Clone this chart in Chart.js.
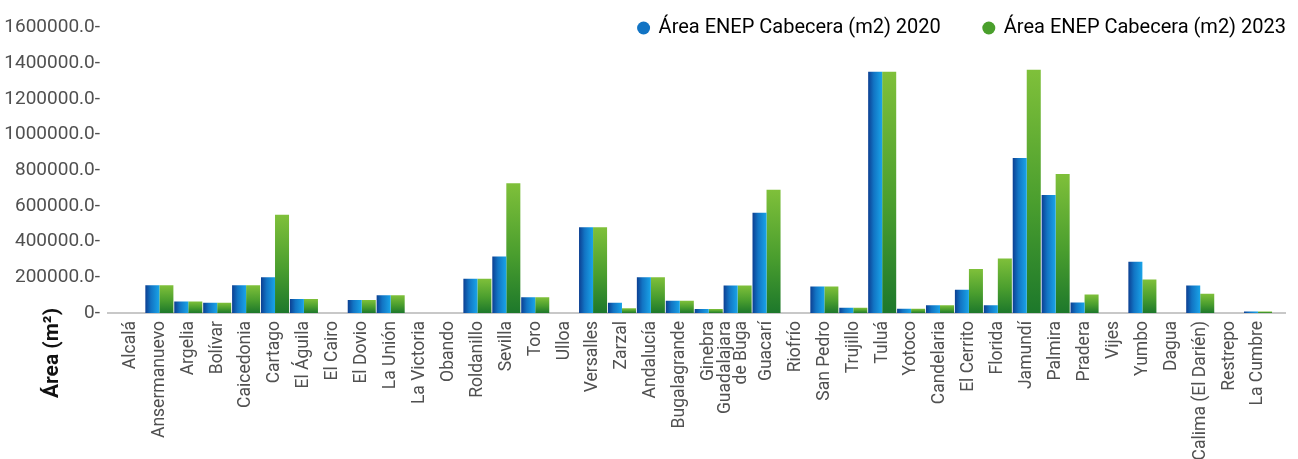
<!DOCTYPE html>
<html>
<head>
<meta charset="utf-8">
<script src="https://cdn.jsdelivr.net/npm/chart.js@4.4.1/dist/chart.umd.min.js"></script>
<style>
  html, body { margin: 0; padding: 0; background: #ffffff; }
  #wrap { width: 1298px; height: 459px; position: relative; }
</style>
</head>
<body>
<div id="wrap"><canvas id="c" width="1298" height="459"></canvas></div>
<script>
const categories = ['Alcalá','Ansermanuevo','Argelia','Bolívar','Caicedonia','Cartago','El Águila','El Cairo','El Dovio','La Unión','La Victoria','Obando','Roldanillo','Sevilla','Toro','Ulloa','Versalles','Zarzal','Andalucía','Bugalagrande','Ginebra',['Guadalajara','de Buga'],'Guacarí','Riofrío','San Pedro','Trujillo','Tuluá','Yotoco','Candelaria','El Cerrito','Florida','Jamundí','Palmira','Pradera','Vijes','Yumbo','Dagua','Calima (El Darién)','Restrepo','La Cumbre'];

const area2020 = [0,155000,65000,57000,155000,200000,79000,0,73000,100000,0,0,192000,317000,88000,0,480000,57000,200000,68000,22000,154000,562000,0,148000,29000,1352000,24000,44000,130000,44000,868000,661000,59000,0,287000,0,154000,0,8000];
const area2023 = [0,155000,65000,57000,155000,551000,79000,0,73000,100000,0,0,192000,727000,88000,0,480000,26000,200000,68000,22000,154000,691000,0,148000,29000,1352000,24000,44000,246000,306000,1363000,779000,103000,0,188000,0,108000,0,8000];

const seriesNames = ['Área ENEP Cabecera (m2) 2020', 'Área ENEP Cabecera (m2) 2023'];
const yTicks = [0,200000,400000,600000,800000,1000000,1200000,1400000,1600000];
const yTitle = 'Área (m²)';

const CAT_PCT = 0.97;

function barFill(ctx, which) {
  const chart = ctx.chart;
  const xs = chart.scales && chart.scales.x, ys = chart.scales && chart.scales.y;
  const fallback = which === 0 ? '#1377c6' : '#4ea52c';
  if (!xs || !ys || ctx.type !== 'data' || !chart.chartArea) return fallback;
  const i = ctx.dataIndex;
  const v = ctx.raw || 0;
  const c = xs.getPixelForValue(i);
  const half = (xs.right - xs.left) / categories.length * CAT_PCT / 2;
  const left = which === 0 ? c - half : c;
  const right = left + half;
  const top = ys.getPixelForValue(v);
  const base = ys.getPixelForValue(0);
  const g = chart.ctx;
  if (!isFinite(left) || !isFinite(top)) return fallback;
  if (which === 0) {
    const gr = g.createLinearGradient(left, 0, right, 0);
    gr.addColorStop(0, '#0c3f92');
    gr.addColorStop(0.4, '#1274c4');
    gr.addColorStop(1, '#19a4e8');
    return gr;
  } else {
    const gr = g.createLinearGradient(0, top, 0, Math.max(base, top + 1));
    gr.addColorStop(0, '#7fc03a');
    gr.addColorStop(0.55, '#4a9e2e');
    gr.addColorStop(1, '#1d782b');
    return gr;
  }
}

const extrasPlugin = {
  id: 'extras',
  beforeLayout(chart) {
    const lg = chart.legend;
    if (lg && !lg._zeroFit) {
      const orig = lg.fit.bind(lg);
      lg.fit = function () { orig(); this.height = 0; };
      lg._zeroFit = true;
    }
  },
  afterLayout(chart) {
    const lg = chart.legend;
    if (lg) {
      const pad = lg.options.labels.padding;
      lg.right = 1286 + pad;
      lg.left = 0;
      lg.top = 28 - pad - 10;
      lg.bottom = lg.top + 2 * pad + 40;
      lg.width = lg.right - lg.left;
      lg.height = lg.bottom - lg.top;
    }
    const xs = chart.scales.x;
    if (xs && xs.getLabelItems) {
      const items = xs.getLabelItems(chart.chartArea);
      categories.forEach((lab, i) => {
        if (Array.isArray(lab) && items[i] && items[i].options && items[i].options.translation) {
          items[i].options.translation[0] -= 12;
        }
      });
    }
  },
  beforeDatasetsDraw(chart) {
    const ys = chart.scales.y;
    const y0 = ys.getPixelForValue(0);
    const c = chart.ctx;
    c.save();
    c.strokeStyle = '#c8c8c8';
    c.lineWidth = 2;
    c.beginPath();
    c.moveTo(107, y0);
    c.lineTo(1286, y0);
    c.stroke();
    c.restore();
  },
  afterDraw(chart) {
    const c = chart.ctx;
    c.save();
    c.translate(53, 353);
    c.rotate(-Math.PI / 2);
    c.font = 'bold 21px Roboto';
    c.fillStyle = '#111111';
    c.textAlign = 'center';
    c.textBaseline = 'middle';
    c.fillText(yTitle, 0, 0);
    c.restore();
  }
};

new Chart(document.getElementById('c'), {
  type: 'bar',
  data: {
    labels: categories,
    datasets: [
      { label: seriesNames[0], data: area2020, backgroundColor: (ctx) => barFill(ctx, 0), borderWidth: 0, categoryPercentage: CAT_PCT, barPercentage: 1.0 },
      { label: seriesNames[1], data: area2023, backgroundColor: (ctx) => barFill(ctx, 1), borderWidth: 0, categoryPercentage: CAT_PCT, barPercentage: 1.0 }
    ]
  },
  options: {
    responsive: false,
    animation: false,
    layout: { padding: { left: 0, right: 25.5, top: 22, bottom: 0 } },
    plugins: {
      tooltip: { enabled: false },
      legend: {
        position: 'top',
        align: 'end',
        labels: {
          usePointStyle: true,
          pointStyle: 'circle',
          boxWidth: 10,
          boxHeight: 9.2,
          padding: 43,
          color: '#444444',
          font: { family: 'Roboto', size: 20 },
          generateLabels: (chart) => chart.data.datasets.map((d, i) => ({
            text: d.label,
            fillStyle: i === 0 ? '#1274c4' : '#4a9f2c',
            strokeStyle: i === 0 ? '#1274c4' : '#4a9f2c',
            lineWidth: 0,
            pointStyle: 'circle',
            datasetIndex: i,
            hidden: false
          }))
        }
      }
    },
    scales: {
      x: {
        offset: true,
        grid: { display: false, drawTicks: false },
        border: { display: false },
        ticks: {
          autoSkip: false,
          minRotation: 90,
          maxRotation: 90,
          padding: 8,
          color: '#505050',
          font: { family: 'Roboto', size: 17.5, lineHeight: 0.92 }
        },
        afterFit: (s) => { s.height = 146; }
      },
      y: {
        min: 0,
        max: 1600000,
        afterBuildTicks: (s) => { s.ticks = yTicks.map(v => ({ value: v })); },
        grid: { display: false, drawTicks: false },
        border: { display: false },
        ticks: {
          padding: 16,
          color: '#505050',
          font: { family: 'Roboto', size: 19 },
          callback: (v) => (v === 0 ? '0' : Number(v).toFixed(1)) + '-'
        },
        afterFit: (s) => { s.width = 116; }
      }
    }
  },
  plugins: [extrasPlugin]
});
</script>
</body>
</html>
